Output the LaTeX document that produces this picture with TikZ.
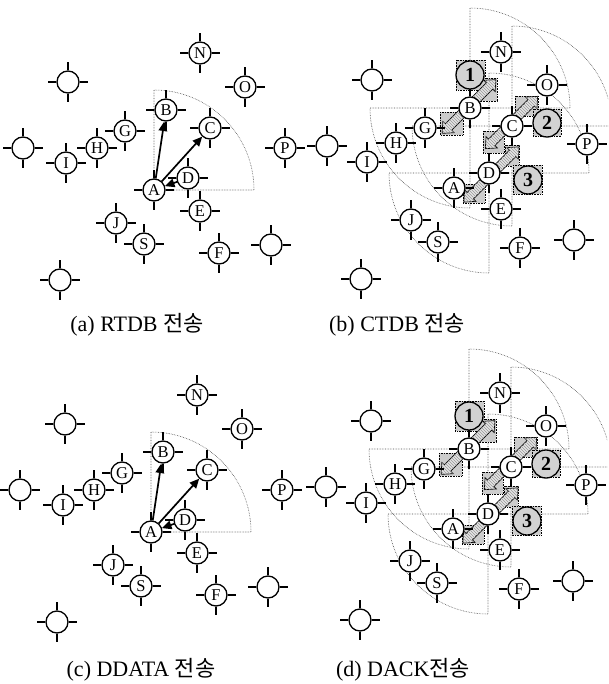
\documentclass[tikz,border=0pt]{standalone}
\usepackage{fontspec}
\setmainfont{Liberation Serif}
\newfontfamily\kr{Noto Sans CJK KR}
\usetikzlibrary{arrows.meta,patterns}
\tikzset{
  stn/.style={circle,draw,line width=1.3pt,fill=white,minimum size=22pt,inner sep=0pt,font=\fontsize{16.5}{16.5}\selectfont},
  tick/.style={line width=1.3pt},
  sector/.style={densely dotted,line width=0.6pt,black!70},
  arr/.style={line width=1.7pt,-{Triangle[length=9.5pt,width=8.5pt]}},
  numc/.style={circle,draw,line width=1.3pt,fill=gray!35,minimum size=28pt,inner sep=0pt,font=\bfseries\fontsize{20}{20}\selectfont},
  gbox/.style={densely dotted,line width=0.6pt,fill=gray!40},
  fat/.style={line width=0.7pt,fill=gray!20,postaction={pattern=north west lines,pattern color=gray!80}},
  captxt/.style={font=\fontsize{22}{22}\selectfont}
}
\newcommand\station[3]{%
  \node[stn] (#1) at (#2) {#3};
  \draw[tick] (#1.north) -- ++(0,-8);
  \draw[tick] (#1.south) -- ++(0,8);
  \draw[tick] (#1.east) -- ++(8,0);
  \draw[tick] (#1.west) -- ++(-8,0);
}
% fat double arrow centred at #1, half length #2, at 45 degrees
\newcommand\fatarrow[2]{%
  \begin{scope}[shift={(#1)},rotate=45]
  \draw[fat] (-#2,0) -- (-#2+9,-8) -- (-#2+9,-4.5) -- (#2-9,-4.5) -- (#2-9,-8) -- (#2,0)
     -- (#2-9,8) -- (#2-9,4.5) -- (-#2+9,4.5) -- (-#2+9,8) -- cycle;
  \end{scope}
}
\newcommand\panelAnodes[1]{%
  \station{#1N}{200,53}{N}
  \station{#1u1}{68,82}{}
  \station{#1O}{245,87}{O}
  \station{#1B}{166,110}{B}
  \station{#1G}{125,131}{G}
  \station{#1C}{210,128}{C}
  \station{#1H}{97,148}{H}
  \station{#1u2}{23,148}{}
  \station{#1I}{66,163}{I}
  \station{#1P}{285,148}{P}
  \station{#1D}{188,178}{D}
  \station{#1A}{154,190}{A}
  \station{#1E}{200,211}{E}
  \station{#1J}{116,223}{J}
  \station{#1S}{144,244}{S}
  \station{#1F}{219,253}{F}
  \station{#1u3}{271,245}{}
  \station{#1u4}{60,280}{}
}
\newcommand\panelBnodes[1]{%
  \station{#1N}{501,52}{N}
  \station{#1u1}{372,80}{}
  \station{#1O}{547,85}{O}
  \station{#1B}{470,108}{B}
  \station{#1G}{425,128}{G}
  \station{#1C}{512,126}{C}
  \station{#1H}{396,143}{H}
  \station{#1u2}{327,146}{}
  \station{#1I}{367,162}{I}
  \station{#1P}{587,144}{P}
  \station{#1D}{489,173}{D}
  \station{#1A}{454,188}{A}
  \station{#1E}{501,209}{E}
  \station{#1J}{411,220}{J}
  \station{#1S}{438,242}{S}
  \station{#1F}{520,248}{F}
  \station{#1u3}{574,240}{}
  \station{#1u4}{361,279}{}
}
% NE and SW sectors of radius 100 centred at (x,y)
\newcommand\sectorNE[1]{\draw[sector] (#1) -- ++(0,-100) arc[start angle=-90,end angle=0,radius=100] -- cycle;}
\newcommand\sectorSW[1]{\draw[sector] (#1) -- ++(-100,0) arc[start angle=180,end angle=90,radius=100] -- cycle;}
\newcommand\panelA[1]{%
  \sectorNE{154,190}
  \panelAnodes{#1}
  \draw[arr] (#1A) -- (#1B);
  \draw[arr] (#1A) -- (#1C);
  \draw[arr] (#1D) -- (#1A);
}
\newcommand\panelB[1]{%
  \begin{scope}
  \clip (300,0) rectangle (608,300);
  \sectorNE{470,108}
  \sectorSW{470,108}
  \sectorNE{512,126}
  \sectorSW{512,126}
  \sectorNE{489,173}
  \sectorSW{489,173}
  \end{scope}
  \draw[gbox] (440,112) rectangle (463,135);
  \draw[gbox] (480,78) rectangle (497,101);
  \draw[gbox] (456,60) rectangle (485,90);
  \draw[gbox] (515,96) rectangle (538,116);
  \draw[gbox] (533,109) rectangle (561,136);
  \draw[gbox] (483,131) rectangle (504,153);
  \draw[gbox] (505,145) rectangle (519,166);
  \draw[gbox] (463,184) rectangle (485,203);
  \draw[gbox] (513,165) rectangle (542,194);
  \fatarrow{469,106.5}{38}
  \fatarrow{511.5,122.5}{37}
  \fatarrow{491.5,174.5}{39}
  \panelBnodes{#1}
  \node[numc] (#1n1) at (470,75) {1};
  \node[numc] (#1n2) at (547,123) {2};
  \node[numc] (#1n3) at (528,180) {3};
}
\begin{document}
\begin{tikzpicture}[x=1pt,y=-1pt]
\useasboundingbox (0,0) rectangle (608,684);
\panelA{a}
\panelB{b}
\begin{scope}[shift={(-3,342)}]
\panelA{c}
\end{scope}
\begin{scope}[shift={(-1,341)}]
\panelB{d}
\end{scope}
\node[captxt] (capa) at (137,325) {(a) RTDB {\kr 전송}};
\node[captxt] (capb) at (397,325) {(b) CTDB {\kr 전송}};
\node[captxt] (capc) at (141,670) {(c) DDATA {\kr 전송}};
\node[captxt] (capd) at (403,670) {(d) DACK{\kr 전송}};
\end{tikzpicture}
\end{document}
